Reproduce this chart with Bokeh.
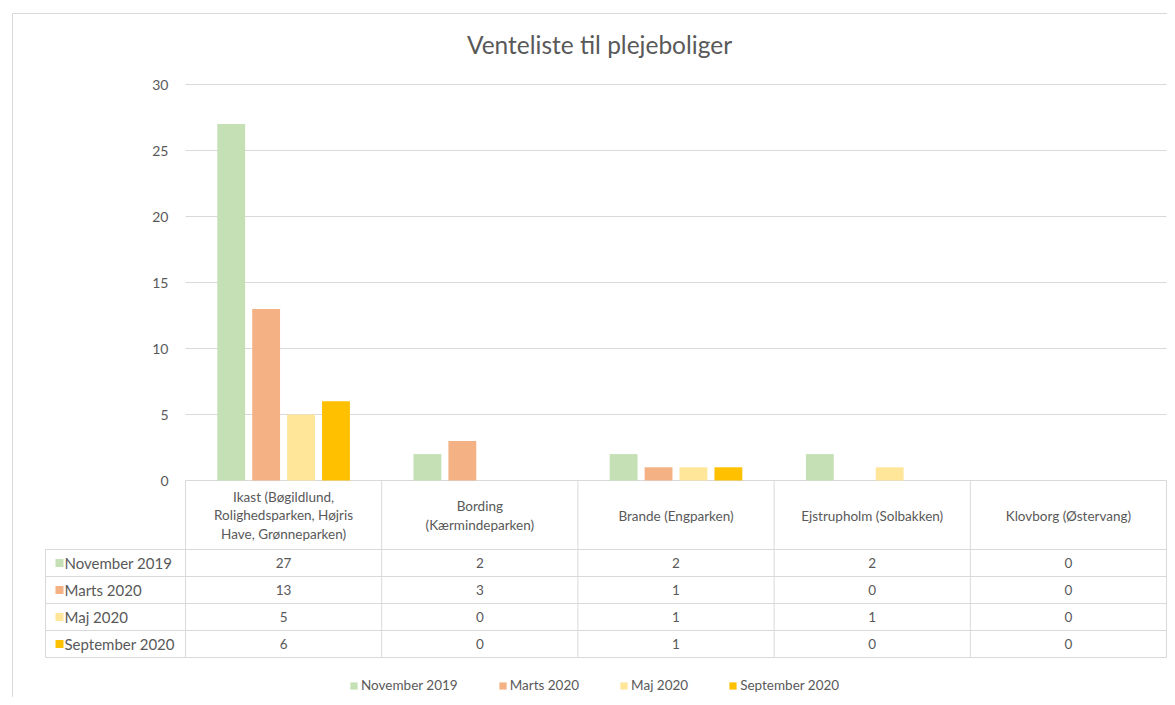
from bokeh.plotting import figure
from bokeh.models import Range1d, LinearAxis, FixedTicker, Legend, LegendItem
from bokeh.core.properties import value
from bokeh.embed import file_html
from bokeh.resources import INLINE

# ---------------- data ----------------
title_text = "Venteliste til plejeboliger"
categories = [
    "Ikast (Bøgildlund,\nRolighedsparken, Højris\nHave, Grønneparken)",
    "Bording\n(Kærmindeparken)",
    "Brande (Engparken)",
    "Ejstrupholm (Solbakken)",
    "Klovborg (Østervang)",
]
series_names = ["November 2019", "Marts 2020", "Maj 2020", "September 2020"]
nov_2019 = [27, 2, 2, 2, 0]
marts_2020 = [13, 3, 1, 0, 0]
maj_2020 = [5, 0, 1, 1, 0]
sep_2020 = [6, 0, 1, 0, 0]
y_ticks = [0, 5, 10, 15, 20, 25, 30]
colors = ["#c5e0b4", "#f4b183", "#ffe699", "#ffc000"]

series_values = [nov_2019, marts_2020, maj_2020, sep_2020]

# ---------------- layout helpers ----------------
W, H = 1167, 697
OFF = 0                   # canvas origin on the screenshot
X0, PXU = 185.0, 196.2    # screen px of category start, px per category
Y0, PYU = 480.0, 13.2     # screen px of value 0, px per unit


def dx(px):
    return (px - X0) / PXU


def dy(py):
    return (Y0 - py) / PYU


FONT = "Lato"
TXT = "#595959"
LINE = "#d9d9d9"

p = figure(width=W, height=H, output_backend="svg", toolbar_location=None,
           x_range=Range1d(dx(OFF), dx(OFF + W)), y_range=Range1d(dy(OFF + H), dy(OFF)),
           x_axis_location=None, y_axis_location=None, min_border=0,
           outline_line_color=None, background_fill_color="white",
           border_fill_color="white")
p.grid.visible = False

# outer chart border
p.segment(x0=[dx(12), dx(12)], y0=[dy(13), dy(13)],
          x1=[dx(12), dx(OFF + W)], y1=[dy(OFF + H), dy(13)],
          line_color=LINE, line_width=1)

# title
p.text(x=[dx(599)], y=[dy(44)], text=[title_text], text_align="center",
       text_baseline="middle", text_font=value(FONT), text_font_size="24.5px",
       text_color=TXT)

# gridlines
n_cat = len(categories)
p.segment(x0=[0] * len(y_ticks), x1=[n_cat] * len(y_ticks), y0=y_ticks, y1=y_ticks,
          line_color=LINE, line_width=1)

# y axis (fixed at x=0)
yaxis = LinearAxis(fixed_location=0, ticker=FixedTicker(ticks=y_ticks))
yaxis.axis_line_color = None
yaxis.major_tick_line_color = None
yaxis.minor_tick_line_color = None
yaxis.major_tick_out = 0
yaxis.major_tick_in = 0
yaxis.major_label_standoff = 17
yaxis.major_label_text_font = FONT
yaxis.major_label_text_font_size = "14px"
yaxis.major_label_text_color = TXT
p.add_layout(yaxis, "left")

# bars
bar_w = 0.142
step = 0.178
offsets = [(j - 1.5) * step for j in range(len(series_names))]
renderers = []
for j, vals in enumerate(series_values):
    r = p.vbar(x=[i + 0.5 + offsets[j] for i in range(n_cat)], top=vals, bottom=0,
               width=bar_w, fill_color=colors[j], line_color=None)
    renderers.append(r)

# data table
row_edges = [549, 576, 603, 630, 657]
row_centers = [(row_edges[k] + row_edges[k + 1]) / 2 for k in range(4)]
left_px = 45

# vertical lines
p.segment(x0=list(range(n_cat + 1)), x1=list(range(n_cat + 1)),
          y0=[dy(480)] * (n_cat + 1), y1=[dy(row_edges[-1])] * (n_cat + 1),
          line_color=LINE, line_width=1)
p.segment(x0=[dx(left_px)], x1=[dx(left_px)], y0=[dy(row_edges[0])], y1=[dy(row_edges[-1])],
          line_color=LINE, line_width=1)
# horizontal lines
p.segment(x0=[dx(left_px)] * len(row_edges), x1=[n_cat] * len(row_edges),
          y0=[dy(e) for e in row_edges], y1=[dy(e) for e in row_edges],
          line_color=LINE, line_width=1)

# header
p.text(x=[i + 0.5 for i in range(n_cat)], y=[dy(515)] * n_cat, text=categories,
       text_align="center", text_baseline="middle", text_font=value(FONT),
       text_font_size="13.5px", text_color=TXT, text_line_height=1.15)

# values
for j, vals in enumerate(series_values):
    p.text(x=[i + 0.5 for i in range(n_cat)], y=[dy(row_centers[j])] * n_cat,
           text=[str(v) for v in vals], text_align="center", text_baseline="middle",
           text_font=value(FONT), text_font_size="13.5px", text_color=TXT)

# series labels with keys
p.scatter(x=[dx(59)] * 4, y=[dy(c) for c in row_centers], marker="square", size=8,
          fill_color=colors, line_color=None)
p.text(x=[dx(64)] * 4, y=[dy(c) for c in row_centers], text=series_names,
       text_align="left", text_baseline="middle", text_font=value(FONT),
       text_font_size="15px", text_color=TXT)

# legend
legend = Legend(items=[LegendItem(label=series_names[j], renderers=[renderers[j]])
                       for j in range(len(series_names))],
                orientation="horizontal", location=(349, 4))
legend.glyph_width = 9
legend.glyph_height = 9
legend.label_standoff = 3
legend.spacing = 40
legend.padding = 2
legend.margin = 0
legend.label_height = 16
legend.label_text_font = FONT
legend.label_text_font_size = "13.5px"
legend.label_text_color = TXT
legend.border_line_color = None
legend.background_fill_alpha = 0
p.add_layout(legend)

open("out.html", "w").write(file_html(p, INLINE))
